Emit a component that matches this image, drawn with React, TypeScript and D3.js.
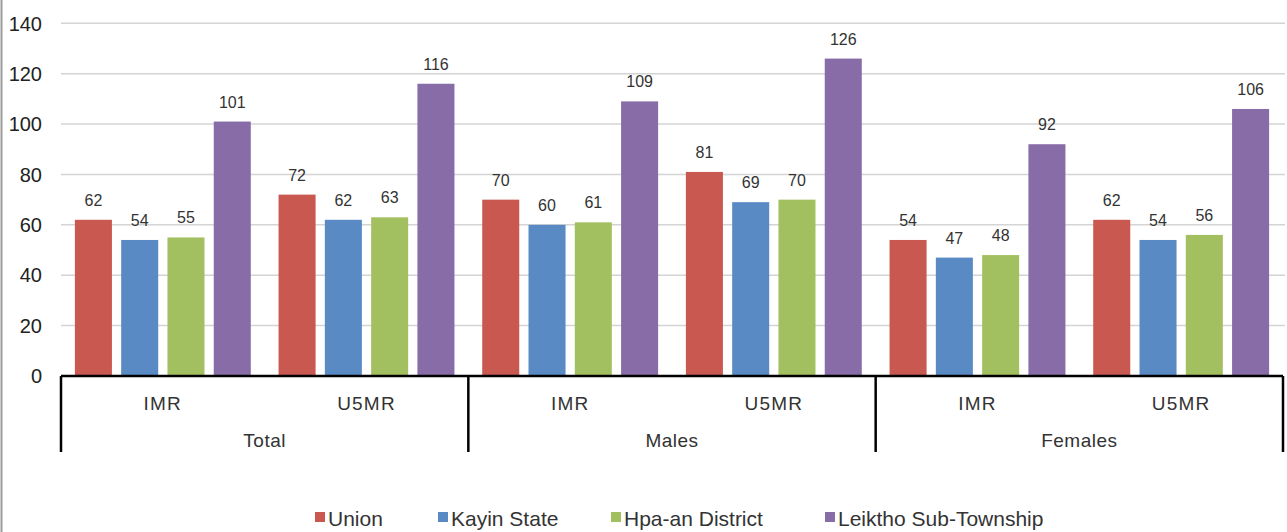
import React from "react";
import * as d3 from "d3";

const groups = ["Total", "Males", "Females"];
const rates = ["IMR", "U5MR"];
const seriesNames = ["Union", "Kayin State", "Hpa-an District", "Leiktho Sub-Township"];
const seriesColors = ["#C95850", "#598AC4", "#A3C060", "#876CA8"];
// values per category (group x rate), ordered as series
const union = [62, 72, 70, 81, 54, 62];
const kayin = [54, 62, 60, 69, 47, 54];
const hpaan = [55, 63, 61, 70, 48, 56];
const leiktho = [101, 116, 109, 126, 92, 106];
const yTicks = [0, 20, 40, 60, 80, 100, 120, 140];

const W = 1287;
const H = 532;
const left = 61;
const right = 1283;
const top = 23.3;
const bottom = 376;

export default function App() {
  const seriesValues = [union, kayin, hpaan, leiktho];
  const cats = groups.flatMap((g) => rates.map((r) => `${g}|${r}`));
  const x0 = d3.scaleBand<string>().domain(cats).range([left, right]).padding(0);
  const x1 = d3
    .scaleBand<string>()
    .domain(seriesNames)
    .range([0, x0.bandwidth()])
    .paddingInner(0.2)
    .paddingOuter(0.3);
  const y = d3.scaleLinear().domain([0, 140]).range([bottom, top]);
  const gx = d3.scaleBand<string>().domain(groups).range([left, right]).padding(0);

  const legendX = [315, 438, 611, 825];
  const font = "'Liberation Sans', Arial, sans-serif";

  return (
    <div style={{ position: "fixed", left: 0, top: 0, width: W, height: H, background: "#fff" }}>
      <svg width={W} height={H} style={{ display: "block", fontFamily: font }}>
        <rect x={0} y={0} width={W} height={H} fill="#fff" />
        <line x1={1.5} x2={1.5} y1={0} y2={H} stroke="#9a9a9a" strokeWidth={2} />
        {yTicks.map((t) => (
          <g key={t}>
            {t > 0 && (
              <line x1={left} x2={right + 2} y1={y(t)} y2={y(t)} stroke="#d4d4d4" strokeWidth={1.5} />
            )}
            <text x={42} y={y(t)} dy="0.36em" textAnchor="end" fontSize={20} fill="#222">
              {t}
            </text>
          </g>
        ))}
        {cats.map((c, ci) => (
          <g key={c} transform={`translate(${x0(c)},0)`}>
            {seriesNames.map((s, si) => {
              const v = seriesValues[si][ci];
              const bx = x1(s)!;
              return (
                <g key={s}>
                  <rect
                    x={bx}
                    y={y(v)}
                    width={x1.bandwidth()}
                    height={y(0) - y(v)}
                    fill={seriesColors[si]}
                  />
                  <text
                    x={bx + x1.bandwidth() / 2}
                    y={y(v) - 14}
                    textAnchor="middle"
                    fontSize={16}
                    fill="#333"
                  >
                    {v}
                  </text>
                </g>
              );
            })}
            <text
              x={x0.bandwidth() / 2}
              y={410}
              textAnchor="middle"
              fontSize={19}
              letterSpacing={1.2}
              fill="#333"
            >
              {c.split("|")[1]}
            </text>
          </g>
        ))}
        <line x1={left} x2={right} y1={bottom} y2={bottom} stroke="#000" strokeWidth={2.5} />
        {[...groups.map((g) => gx(g)!), right].map((xx, i) => (
          <line key={i} x1={xx} x2={xx} y1={bottom} y2={452} stroke="#000" strokeWidth={2.5} />
        ))}
        {groups.map((g) => (
          <text
            key={g}
            x={gx(g)! + gx.bandwidth() / 2}
            y={447}
            textAnchor="middle"
            fontSize={19}
            letterSpacing={0.5}
            fill="#333"
          >
            {g}
          </text>
        ))}
        {seriesNames.map((s, i) => (
          <g key={s} transform={`translate(${legendX[i]},0)`}>
            <rect x={0} y={512} width={10} height={10} fill={seriesColors[i]} />
            <text x={13} y={526} fontSize={21} fill="#333">
              {s}
            </text>
          </g>
        ))}
      </svg>
    </div>
  );
}
